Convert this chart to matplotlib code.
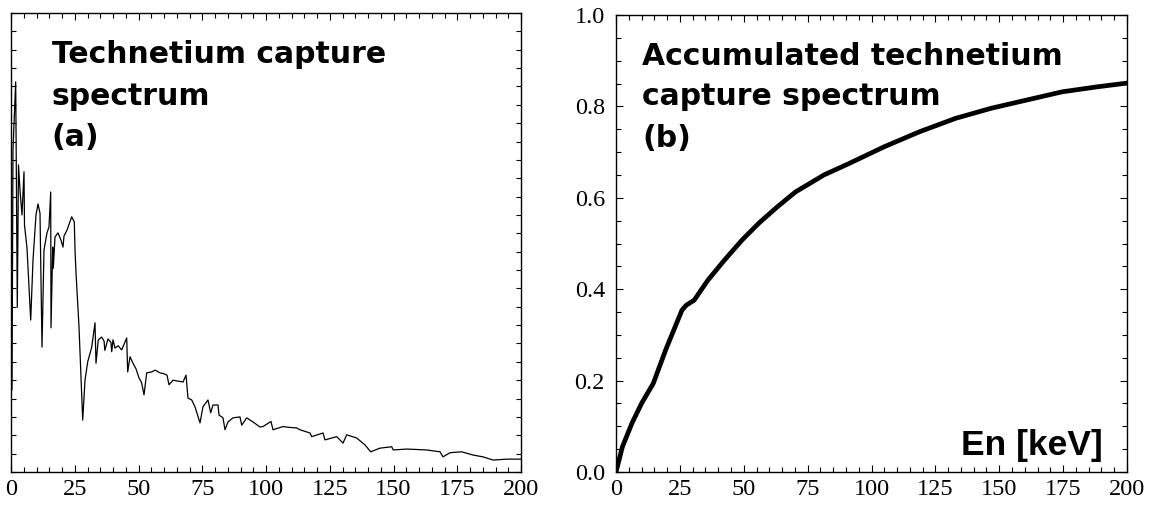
import numpy as np
import matplotlib
matplotlib.use("Agg")
import matplotlib.pyplot as plt
from matplotlib.ticker import MultipleLocator, NullFormatter

# (a) capture spectrum (arbitrary units, 0..1 of panel height)
spec_e = [0, 0.39, 0.78, 1.84, 2.47, 2.94, 3.53, 4.31, 5.10, 5.29, 6.27, 7.73,
          8.63, 9.80, 10.59, 11.37, 12.16, 12.94, 14.12, 14.90, 15.57, 15.69,
          16.35, 16.59, 17.25, 18.43, 19.61, 20.39, 20.78, 21.96, 23.80, 24.82,
          25.10, 25.49, 26.67, 28.12, 29.02, 30.08, 31.65, 32.94, 33.33, 34.24,
          35.57, 36.5, 36.8, 38.04, 39.2, 39.5, 40.0, 40.78, 42.0, 43.41, 45.37,
          45.76, 46.67, 47.84, 49.0, 50.20, 51.2, 52.16, 53.22, 55.18, 56.5, 58.43,
          60.0, 61.18, 61.96, 63.53, 65.5, 67.45, 68.63, 69.41, 70.86, 72.16,
          74.12, 75.29, 77.25, 78.31, 79.22, 81.18, 81.57, 83.14, 83.92, 85.10,
          87.06, 89.80, 90.47, 92.43, 94.90, 97.65, 98.8, 101.96, 102.75, 106.67,
          109.5, 112.04, 113.33, 117.25, 117.92, 122.35, 123.14, 127.73, 130.20,
          131.65, 135.57, 138.82, 141.06, 144.71, 149.29, 149.92, 155.18, 163.02,
          168.24, 169.41, 172.16, 176.75, 181.18, 185.1, 189.02, 194.39, 200]
spec_v = [0.636, 0.179, 0.702, 0.850, 0.359, 0.669, 0.614, 0.560, 0.654, 0.538,
          0.488, 0.331, 0.462, 0.560, 0.584, 0.564, 0.272, 0.484, 0.521, 0.534,
          0.610, 0.314, 0.490, 0.444, 0.512, 0.521, 0.505, 0.490, 0.514, 0.527,
          0.556, 0.545, 0.484, 0.434, 0.316, 0.113, 0.200, 0.240, 0.272, 0.325,
          0.237, 0.288, 0.294, 0.285, 0.265, 0.290, 0.282, 0.262, 0.288, 0.270,
          0.275, 0.266, 0.292, 0.218, 0.251, 0.237, 0.225, 0.205, 0.195, 0.168,
          0.216, 0.218, 0.222, 0.216, 0.214, 0.211, 0.190, 0.200, 0.198, 0.196,
          0.211, 0.161, 0.157, 0.142, 0.107, 0.142, 0.157, 0.129, 0.146, 0.146,
          0.124, 0.118, 0.092, 0.109, 0.118, 0.120, 0.102, 0.118, 0.109, 0.098,
          0.099, 0.110, 0.092, 0.099, 0.097, 0.096, 0.092, 0.085, 0.077, 0.085,
          0.070, 0.077, 0.063, 0.081, 0.074, 0.059, 0.044, 0.052, 0.055, 0.048,
          0.050, 0.048, 0.044, 0.033, 0.042, 0.044, 0.037, 0.033, 0.026, 0.028,
          0.028]

# (b) accumulated spectrum
acc_e = [0, 2.5, 6.26, 10.0, 14.6, 19.5, 25.8, 27.5, 30.6, 36.0, 42.5, 49.4,
         56.0, 63.3, 70.3, 81.4, 91.2, 105.1, 119.0, 133.0, 146.9, 160.8,
         174.7, 188.6, 200]
acc_v = [0, 0.055, 0.107, 0.150, 0.194, 0.268, 0.354, 0.365, 0.376, 0.420,
         0.464, 0.508, 0.545, 0.581, 0.613, 0.650, 0.675, 0.712, 0.745, 0.774,
         0.796, 0.814, 0.832, 0.843, 0.851]

x_ticks = [0, 25, 50, 75, 100, 125, 150, 175, 200]

tick_font = {"family": "Liberation Serif", "size": 17.5}
title_font = {"family": "DejaVu Sans", "weight": "bold", "size": 21.5}

fig = plt.figure(figsize=(11.58, 5.09), dpi=100)
ax1 = fig.add_axes([11 / 1158, 37 / 509, 510 / 1158, 459 / 509])
ax2 = fig.add_axes([616 / 1158, 37 / 509, 511 / 1158, 457 / 509])

ax1.plot(spec_e, spec_v, color="black", lw=0.9)
ax2.plot(acc_e, acc_v, color="black", lw=3.4, solid_capstyle="round")

for ax in (ax1, ax2):
    ax.set_xlim(0, 200)
    ax.set_ylim(0, 1)
    ax.set_xticks(x_ticks)
    ax.xaxis.set_minor_locator(MultipleLocator(5))
    ax.tick_params(which="both", direction="in", top=True, right=True, width=0.8)
    ax.tick_params(which="major", length=5, pad=5)
    ax.tick_params(which="minor", length=3.5)
    for s in ax.spines.values():
        s.set_linewidth(1.0)
    for lab in ax.get_xticklabels():
        lab.set_fontfamily(tick_font["family"])
        lab.set_fontsize(tick_font["size"])

# left panel: ticks on y but no numbers
ax1.yaxis.set_major_locator(MultipleLocator(0.04))
ax1.yaxis.set_major_formatter(NullFormatter())
ax1.tick_params(axis="y", which="major", length=3.5)

# right panel
ax2.yaxis.set_major_locator(MultipleLocator(0.2))
ax2.yaxis.set_minor_locator(MultipleLocator(0.05))
ax2.set_yticklabels([f"{v:.1f}" for v in ax2.get_yticks()])
ax2.tick_params(axis="y", which="major", pad=8)
for lab in ax2.get_yticklabels():
    lab.set_fontfamily(tick_font["family"])
    lab.set_fontsize(tick_font["size"])

# titles, one line at a time
left_lines = ["Technetium capture", "spectrum", "(a)"]
right_lines = ["Accumulated technetium", "capture spectrum", "(b)"]
for i, t in enumerate(left_lines):
    ax1.text(0.080, [0.891, 0.800, 0.710][i], t, transform=ax1.transAxes,
             va="baseline", ha="left", **title_font)
for i, t in enumerate(right_lines):
    ax2.text(0.051, [0.891, 0.803, 0.712][i], t, transform=ax2.transAxes,
             va="baseline", ha="left", **title_font)

ax2.text(0.952, 0.037, "En [keV]", transform=ax2.transAxes, va="baseline",
         ha="right", family="Liberation Sans", weight="bold", size=25.5)

fig.savefig("out.png", dpi=100)
plt.close(fig)
